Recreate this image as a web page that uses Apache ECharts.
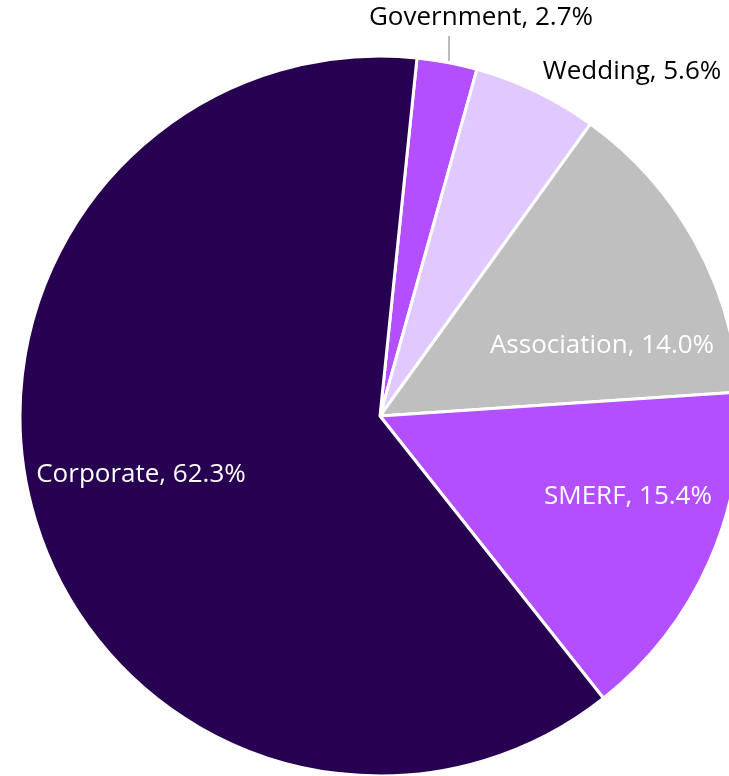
<!DOCTYPE html>
<html>
<head>
<meta charset="utf-8">
<script src="https://cdn.jsdelivr.net/npm/echarts@6/dist/echarts.min.js"></script>
<style>html,body{margin:0;padding:0;background:#fff;}#chart{width:729px;height:776px;}</style>
</head>
<body>
<div id="chart"></div>
<script>
const categories = ['Government', 'Wedding', 'Association', 'SMERF', 'Corporate'];
const values = [2.7, 5.6, 14.0, 15.4, 62.3];
const colors = ['#B34FFF', '#E1C8FF', '#BFBFBF', '#B34FFF', '#280052'];
const labelColors = ['#000000', '#000000', '#FFFFFF', '#FFFFFF', '#FFFFFF'];

// label placement (center positions, px)
const labelPos = [[481, 18], [632, 72], [602, 346], [628, 497], [141, 475]];

const chart = echarts.init(document.getElementById('chart'));
chart.setOption({
  animation: false,
  series: [{
    type: 'pie',
    center: [380, 416],
    radius: [0, 360],
    startAngle: 84.1,
    clockwise: true,
    avoidLabelOverlap: false,
    itemStyle: { borderColor: '#ffffff', borderWidth: 3 },
    label: {
      show: true,
      position: 'inside',
      fontFamily: 'Open Sans',
      fontSize: 26,
      formatter: p => p.name + ', ' + p.value.toFixed(1) + '%'
    },
    labelLine: { show: false },
    labelLayout: function (params) {
      const p = labelPos[params.dataIndex];
      return { x: p[0], y: p[1], align: 'center', verticalAlign: 'middle' };
    },
    data: categories.map((c, i) => ({
      name: c,
      value: values[i],
      itemStyle: { color: colors[i] },
      label: { color: labelColors[i] }
    }))
  }],
  graphic: [{
    type: 'line',
    shape: { x1: 449, y1: 36, x2: 449, y2: 61 },
    style: { stroke: '#A6A6A6', lineWidth: 1.5 },
    z: 10
  }]
});
</script>
</body>
</html>
